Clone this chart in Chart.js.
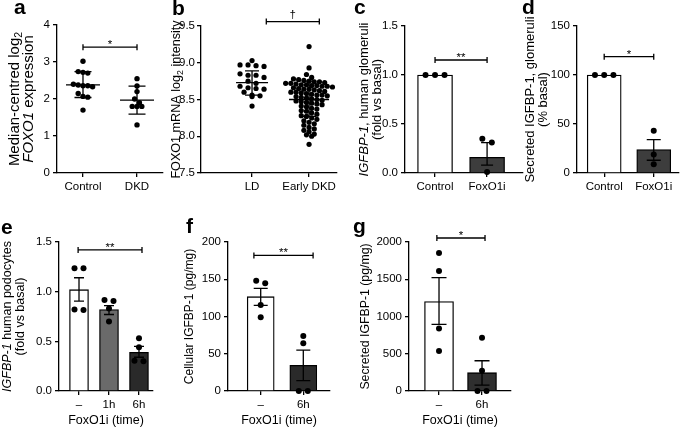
<!DOCTYPE html>
<html>
<head>
<meta charset="utf-8">
<script src="https://cdn.jsdelivr.net/npm/chart.js@4.4.1/dist/chart.umd.min.js"></script>
<style>
  body { margin: 0; background: #fff; width: 683px; height: 428px; position: relative; overflow: hidden; }
  canvas { position: absolute; }
  .lbl { position: absolute; font: bold 21px "Liberation Sans", Arial, sans-serif; line-height: 21px; color: #000; }
</style>
</head>
<body>
<canvas id="pa" width="172" height="200" style="left:0px;top:0px"></canvas>
<canvas id="pb" width="172" height="200" style="left:170px;top:0px"></canvas>
<canvas id="pc" width="175" height="200" style="left:352px;top:0px"></canvas>
<canvas id="pd" width="168" height="200" style="left:515px;top:0px"></canvas>
<canvas id="pe" width="160" height="213" style="left:0px;top:215px"></canvas>
<canvas id="pf" width="155" height="213" style="left:180px;top:215px"></canvas>
<canvas id="pg" width="175" height="213" style="left:345px;top:215px"></canvas>
<div class="lbl" style="left:14px;top:-4px">a</div>
<div class="lbl" style="left:172px;top:-3px">b</div>
<div class="lbl" style="left:354px;top:-4px">c</div>
<div class="lbl" style="left:522px;top:-4px">d</div>
<div class="lbl" style="left:1px;top:216px">e</div>
<div class="lbl" style="left:186px;top:215px">f</div>
<div class="lbl" style="left:353px;top:215px">g</div>
<script>
const FONT = '"Liberation Sans", Arial, Helvetica, sans-serif';
const ink = '#000';

// a: FOXO1 expression, mean +/- SD
const aCats = ['Control', 'DKD'];
const aYTicks = ['0', '1', '2', '3', '4'];
const aControl = [3.02, 2.74, 2.72, 2.70, 2.40, 2.38, 2.36, 2.36, 2.33, 2.15, 2.07, 2.05, 1.70];
const aDKD = [2.55, 2.35, 2.20, 2.00, 1.90, 1.80, 1.80, 1.80, 1.30];
const aMean = [2.38, 1.97];
const aLow = [2.04, 1.59];
const aHigh = [2.74, 2.35];
const aSig = [0, 1, 3.4, '*'];

// b: FOXO1 mRNA, mean +/- SD
const bCats = ['LD', 'Early DKD'];
const bYTicks = ['7.5', '8.0', '8.5', '9.0', '9.5'];
const bLD = [9.03, 8.97, 8.97, 8.96, 8.95, 8.85, 8.83, 8.83, 8.80, 8.75, 8.72, 8.68, 8.66, 8.65, 8.64, 8.60, 8.56, 8.55, 8.54, 8.41];
const bDKD = [9.22, 8.93, 8.84, 8.80, 8.78, 8.77, 8.76, 8.75, 8.74, 8.74, 8.73, 8.72, 8.72, 8.71, 8.70, 8.70,
  8.69, 8.69, 8.68, 8.68, 8.67, 8.66, 8.65, 8.64, 8.64, 8.63, 8.62, 8.61, 8.60, 8.60, 8.59, 8.58, 8.57,
  8.56, 8.56, 8.55, 8.54, 8.53, 8.52, 8.51, 8.50, 8.49, 8.48, 8.47, 8.46, 8.45, 8.44, 8.43, 8.41, 8.40,
  8.38, 8.37, 8.35, 8.34, 8.32, 8.30, 8.28, 8.27, 8.25, 8.23, 8.21, 8.19, 8.17, 8.15, 8.12, 8.10, 8.08,
  8.06, 8.03, 8.02, 8.00, 7.89];
const bMean = [8.73, 8.50];
const bLow = [8.56, 8.27];
const bHigh = [8.89, 8.75];
const bSig = [0.25, 1.18, 9.56, '\u2020'];

// c: IGFBP-1 glomeruli, mean +/- SEM
const cCats = ['Control', 'FoxO1i'];
const cYTicks = ['0.0', '0.5', '1.0', '1.5'];
const cPoints = [[1, 1, 1], [0.35, 0.31, 0.01]];
const cMean = [1.0, 0.16];
const cLow = [1.0, 0.08];
const cHigh = [1.0, 0.31];
const cSig = [0, 1, 1.153, '**'];

// d: secreted IGFBP-1 glomeruli
const dCats = ['Control', 'FoxO1i'];
const dYTicks = ['0', '50', '100', '150'];
const dPoints = [[100, 100, 100], [43, 19, 9]];
const dMean = [100, 24];
const dLow = [100, 13];
const dHigh = [100, 34];
const dSig = [0, 1, 118.7, '*'];

// e: IGFBP-1 podocytes
const eCats = ['\u2013', '1h', '6h'];
const eYTicks = ['0.0', '0.5', '1.0', '1.5'];
const ePoints = [[1.235, 1.235, 0.82, 0.815], [0.915, 0.905, 0.83, 0.70], [0.53, 0.44, 0.305, 0.30]];
const eMean = [1.02, 0.82, 0.39];
const eLow = [0.905, 0.77, 0.34];
const eHigh = [1.14, 0.86, 0.45];
const eSig = [-0.03, 2.1, 1.42, '**'];

// f: cellular IGFBP-1
const fCats = ['\u2013', '6h'];
const fYTicks = ['0', '50', '100', '150', '200'];
const fPoints = [[148, 144.6, 115.4, 98.9], [73.8, 64, 0, 0]];
const fMean = [126.6, 34.5];
const fLow = [115, 13.8];
const fHigh = [137.8, 55];
const fSig = [-0.16, 1.23, 182, '**'];

// g: secreted IGFBP-1
const gCats = ['\u2013', '6h'];
const gYTicks = ['0', '500', '1000', '1500', '2000'];
const gPoints = [[1853, 1612, 839, 536], [714, 272, 0, 0]];
const gMean = [1200, 246];
const gLow = [893, 80];
const gHigh = [1522, 406];
const gSig = [-0.05, 1.07, 2054, '*'];

// spread points of one group in rows, Prism style
function swarm(vals, cx, pxY, pxX, rowPx, gap) {
  const sorted = vals.slice().sort((p, q) => q - p);
  const rows = [];
  sorted.forEach(v => {
    const row = rows[rows.length - 1];
    if (row && (row[0] - v) * pxY < rowPx) row.push(v);
    else rows.push([v]);
  });
  const pts = [];
  rows.forEach(row => {
    row.forEach((v, i) => pts.push({ x: cx + (i - (row.length - 1) / 2) * gap / pxX, y: v }));
  });
  return pts;
}

function richLine(ctx, segs, x, y, size) {
  ctx.save();
  ctx.translate(x, y);
  ctx.rotate(-Math.PI / 2);
  ctx.textBaseline = 'middle';
  ctx.textAlign = 'left';
  ctx.fillStyle = ink;
  const fontFor = s => (s[1] === 'i' ? 'italic ' : '') + (s[1] === 's' ? size * 0.7 : size) + 'px ' + FONT;
  let total = 0;
  segs.forEach(s => { ctx.font = fontFor(s); total += ctx.measureText(s[0]).width; });
  let cx = -total / 2;
  segs.forEach(s => {
    ctx.font = fontFor(s);
    ctx.fillText(s[0], cx, s[1] === 's' ? size * 0.3 : 0);
    cx += ctx.measureText(s[0]).width;
  });
  ctx.restore();
}

const extras = {
  id: 'extras',
  afterDatasetsDraw(chart, args, o) {
    const { ctx, scales: { x, y } } = chart;
    ctx.save();
    ctx.strokeStyle = ink;
    ctx.lineWidth = 1.3;
    o.mean.forEach((m, i) => {
      const cx = x.getPixelForValue(i);
      const lo = y.getPixelForValue(o.low[i]);
      const hi = y.getPixelForValue(o.high[i]);
      ctx.beginPath();
      if (o.low[i] !== o.high[i]) {
        ctx.moveTo(cx, lo); ctx.lineTo(cx, hi);
        ctx.moveTo(cx - o.cap, lo); ctx.lineTo(cx + o.cap, lo);
        ctx.moveTo(cx - o.cap, hi); ctx.lineTo(cx + o.cap, hi);
      }
      if (o.meanHalf) {
        const my = y.getPixelForValue(m);
        ctx.moveTo(cx - o.meanHalf[i], my); ctx.lineTo(cx + o.meanHalf[i], my);
      }
      ctx.stroke();
    });
    // significance bracket
    const s = o.sig;
    const x1 = x.getPixelForValue(s[0]), x2 = x.getPixelForValue(s[1]), sy = y.getPixelForValue(s[2]);
    ctx.beginPath();
    ctx.moveTo(x1, sy); ctx.lineTo(x2, sy);
    ctx.moveTo(x1, sy - 3); ctx.lineTo(x1, sy + 3);
    ctx.moveTo(x2, sy - 3); ctx.lineTo(x2, sy + 3);
    ctx.stroke();
    ctx.fillStyle = ink;
    ctx.font = '11.5px ' + FONT;
    ctx.textAlign = 'center';
    ctx.textBaseline = 'alphabetic';
    ctx.fillText(s[3], (x1 + x2) / 2, s[3] === '\u2020' ? sy - 4 : sy + 1);
    ctx.restore();
  },
  afterDraw(chart, args, o) {
    const { ctx, chartArea } = chart;
    const cy = (chartArea.top + chartArea.bottom) / 2;
    o.title.forEach((segs, i) => richLine(ctx, segs, o.titleX[i], cy, o.titleSize));
  }
};

function makePanel(p) {
  const [bl, bt, bw, bh] = p.box;
  const [x0, y0, x1, y1] = p.plot;
  const yVals = p.yTicks.map(Number);
  const yMin = yVals[0], yMax = yVals[yVals.length - 1];
  const pxY = (y1 - y0) / (yMax - yMin);
  const pxX = (x1 - x0) / (p.xMax - p.xMin);

  const datasets = p.points.map((vals, i) => ({
    type: 'scatter',
    data: swarm(vals, i, pxY, pxX, p.rowPx, p.gap[i]),
    pointRadius: p.r,
    pointBackgroundColor: ink,
    pointBorderWidth: 0,
    clip: false,
    order: 1
  }));
  if (p.barColors) {
    datasets.push({
      type: 'bar',
      data: p.mean.map((m, i) => ({ x: i, y: m })),
      backgroundColor: p.barColors,
      borderColor: ink,
      borderWidth: 1.3,
      barThickness: p.barW,
      order: 2
    });
  }

  const tickFont = { family: FONT, size: 11.5 };
  new Chart(document.getElementById(p.id), {
    type: p.barColors ? 'bar' : 'scatter',
    data: { datasets },
    plugins: [extras],
    options: {
      responsive: false,
      animation: false,
      devicePixelRatio: 1,
      events: [],
      layout: { padding: { left: 0, top: y0 - bt, right: bl + bw - x1, bottom: 0 } },
      plugins: {
        legend: { display: false },
        tooltip: { enabled: false },
        extras: {
          mean: p.mean, low: p.low, high: p.high, cap: p.cap, meanHalf: p.meanHalf,
          sig: p.sig, title: p.title, titleX: p.titleX.map(v => v - bl), titleSize: p.titleSize
        }
      },
      scales: {
        x: {
          type: 'linear', min: p.xMin, max: p.xMax, offset: false,
          afterBuildTicks: s => { s.ticks = p.cats.map((c, i) => ({ value: i })); },
          ticks: { callback: (v, i) => p.cats[i], color: ink, font: tickFont, padding: 3, autoSkip: false, maxRotation: 0 },
          grid: { drawOnChartArea: false, tickLength: 4, color: ink, lineWidth: 1.3, offset: false },
          border: { color: ink, width: 1.3 },
          title: p.xTitle
            ? { display: true, text: p.xTitle, color: ink, font: { family: FONT, size: 12.5 }, padding: 0 }
            : { display: false },
          afterFit: s => { s.height = bt + bh - y1; }
        },
        y: {
          type: 'linear', min: yMin, max: yMax,
          afterBuildTicks: s => { s.ticks = yVals.map(v => ({ value: v })); },
          ticks: { callback: (v, i) => p.yTicks[i], color: ink, font: tickFont, padding: p.yPad || 3 },
          grid: { drawOnChartArea: false, tickLength: 4, color: ink, lineWidth: 1.3 },
          border: { color: ink, width: 1.3 },
          afterFit: s => { s.width = x0 - bl; }
        }
      }
    }
  });
}

makePanel({
  id: 'pa', box: [0, 0, 172, 200], plot: [57, 25, 163, 173], xMin: -0.481, xMax: 1.481,
  cats: aCats, yTicks: aYTicks, points: [aControl, aDKD], rowPx: 4, gap: [4.8, 4.8], r: 2.7,
  mean: aMean, low: aLow, high: aHigh, cap: 8.5, meanHalf: [17, 17], sig: aSig,
  title: [[['Median-centred log', 'n'], ['2', 's']], [['FOXO1', 'i'], [' expression', 'n']]],
  titleX: [15, 29], titleSize: 15
});
makePanel({
  id: 'pb', box: [170, 0, 172, 200], plot: [201, 26, 337, 173], xMin: -0.895, xMax: 1.49,
  cats: bCats, yTicks: bYTicks, points: [bLD, bDKD], rowPx: 4, gap: [8, 5.2], r: 2.6, yPad: 2,
  mean: bMean, low: bLow, high: bHigh, cap: 7, meanHalf: [16, 20], sig: bSig,
  title: [[['FOXO1 mRNA log', 'n'], ['2', 's'], [' intensity', 'n']]],
  titleX: [177], titleSize: 12.6
});
makePanel({
  id: 'pc', box: [352, 0, 175, 200], plot: [405, 26, 523, 173], xMin: -0.577, xMax: 1.69,
  cats: cCats, yTicks: cYTicks, points: cPoints, rowPx: 6, gap: [9.5, 9.5], r: 3,
  barColors: ['#ffffff', '#3d3d3d'], barW: 35,
  mean: cMean, low: cLow, high: cHigh, cap: 6, meanHalf: null, sig: cSig,
  title: [[['IGFBP-1', 'i'], [', human glomeruli', 'n']], [['(fold vs basal)', 'n']]],
  titleX: [364, 377], titleSize: 13
});
makePanel({
  id: 'pd', box: [515, 0, 168, 200], plot: [577, 26, 682, 173], xMin: -0.549, xMax: 1.51,
  cats: dCats, yTicks: dYTicks, points: dPoints, rowPx: 6, gap: [9.5, 9.5], r: 3,
  barColors: ['#ffffff', '#3d3d3d'], barW: 34,
  mean: dMean, low: dLow, high: dHigh, cap: 7, meanHalf: null, sig: dSig,
  title: [[['Secreted IGFBP-1, glomeruli', 'n']], [['(% basal)', 'n']]],
  titleX: [530, 543], titleSize: 13
});
makePanel({
  id: 'pe', box: [0, 215, 160, 213], plot: [59, 242, 153, 391], xMin: -0.667, xMax: 2.467,
  cats: eCats, yTicks: eYTicks, points: ePoints, rowPx: 6, gap: [9, 9, 9], r: 3,
  barColors: ['#ffffff', '#6a6a6a', '#2a2a2a'], barW: 19, xTitle: 'FoxO1i (time)',
  mean: eMean, low: eLow, high: eHigh, cap: 5, meanHalf: null, sig: eSig,
  title: [[['IGFBP-1', 'i'], [' human podocytes', 'n']], [['(fold vs basal)', 'n']]],
  titleX: [8, 21], titleSize: 12.5
});
makePanel({
  id: 'pf', box: [180, 215, 155, 213], plot: [228, 242, 330, 391], xMin: -0.768, xMax: 1.627,
  cats: fCats, yTicks: fYTicks, points: fPoints, rowPx: 6, gap: [9, 9], r: 3,
  barColors: ['#ffffff', '#2a2a2a'], barW: 27, xTitle: 'FoxO1i (time)',
  mean: fMean, low: fLow, high: fHigh, cap: 7, meanHalf: null, sig: fSig,
  title: [[['Cellular IGFBP-1 (pg/mg)', 'n']]],
  titleX: [190], titleSize: 12
});
makePanel({
  id: 'pg', box: [345, 215, 175, 213], plot: [409, 242, 511, 391], xMin: -0.698, xMax: 1.674,
  cats: gCats, yTicks: gYTicks, points: gPoints, rowPx: 6, gap: [9, 9], r: 3,
  barColors: ['#ffffff', '#2f2f2f'], barW: 29, xTitle: 'FoxO1i (time)',
  mean: gMean, low: gLow, high: gHigh, cap: 7.5, meanHalf: null, sig: gSig,
  title: [[['Secreted IGFBP-1 (pg/mg)', 'n']]],
  titleX: [366], titleSize: 12.3
});
</script>
</body>
</html>
